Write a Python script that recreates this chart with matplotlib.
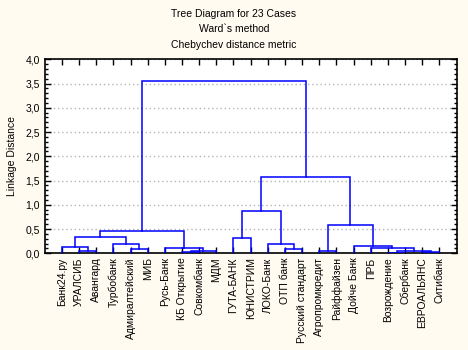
import matplotlib
matplotlib.use('Agg')
import matplotlib.pyplot as plt
import numpy as np
from matplotlib.ticker import MultipleLocator, FuncFormatter

plt.rcParams['font.family'] = ['Liberation Sans', 'DejaVu Sans']

labels = ['Банк24.ру', 'УРАЛСИБ', 'Авангард', 'Турбобанк', 'Адмиралтейский',
          'МИБ', 'Русь-Банк', 'КБ Открытие', 'Совкомбанк', 'МДМ',
          'ГУТА-БАНК', 'ЮНИСТРИМ', 'ЛОКО-Банк', 'ОТП банк', 'Русский стандарт',
          'Агропромкредит', 'Райффайзен', 'Дойче Банк', 'ПРБ', 'Возрождение',
          'Сбербанк', 'ЕВРОАЛЬЯНС', 'Ситибанк']

# merges: node ids < 23 are leaves, new clusters get ids 23, 24, ...
merge_left = [19, 21, 7, 1, 15, 23, 25, 4, 13, 18, 6, 0, 17, 3, 12, 10, 34, 39, 27, 38, 42, 40]
merge_right = [20, 22, 8, 2, 16, 24, 9, 5, 14, 28, 29, 26, 32, 30, 31, 11, 36, 33, 35, 37, 41, 43]
merge_height = [0.015, 0.035, 0.035, 0.04, 0.05, 0.055, 0.055, 0.08, 0.09, 0.10, 0.10,
                0.13, 0.145, 0.20, 0.20, 0.325, 0.34, 0.455, 0.58, 0.87, 1.58, 3.55]

n = len(labels)
pos_x = {i: i + 1 for i in range(n)}
pos_y = {i: 0.0 for i in range(n)}

fig = plt.figure(figsize=(4.68, 3.5), dpi=100, facecolor='#fffbf0')
ax = fig.add_axes([0.0955, 0.2763, 0.8802, 0.5543])
ax.set_facecolor('white')

for k, (a, b, h) in enumerate(zip(merge_left, merge_right, merge_height)):
    xa, xb = pos_x[a], pos_x[b]
    ax.plot([xa, xa, xb, xb], [pos_y[a], h, h, pos_y[b]], color='#0000ff', lw=1.1,
            solid_joinstyle='miter', zorder=3)
    pos_x[n + k] = (xa + xb) / 2
    pos_y[n + k] = h

ax.set_xlim(0, n + 1)
ax.set_ylim(0, 4.0)
ax.set_xticks(range(1, n + 1))
ax.set_xticklabels(labels, rotation=90, fontsize=7.5)
ax.yaxis.set_major_locator(MultipleLocator(0.5))
ax.yaxis.set_minor_locator(MultipleLocator(0.1))
ax.yaxis.set_major_formatter(FuncFormatter(lambda v, p: f'{v:.1f}'.replace('.', ',')))
ax.tick_params(axis='y', labelsize=7.5)
ax.tick_params(which='both', direction='in', top=True, right=True, width=1)
ax.tick_params(which='major', length=4)
ax.tick_params(which='minor', length=2)
ax.tick_params(axis='x', pad=3)
ax.grid(axis='y', which='major', color='#b4b4b4', linestyle=(0, (1, 2)), lw=1)
for s in ax.spines.values():
    s.set_linewidth(1.2)

ax.set_ylabel('Linkage Distance', fontsize=7.5, labelpad=6)

fig.text(0.5, 1 - 14 / 350, 'Tree Diagram for 23 Cases', ha='center', va='center', fontsize=7.5)
fig.text(0.5, 1 - 29.5 / 350, "Ward`s method", ha='center', va='center', fontsize=7.5)
fig.text(0.5, 1 - 45 / 350, 'Chebychev distance metric', ha='center', va='center', fontsize=7.5)

fig.savefig('out.png', dpi=100, facecolor=fig.get_facecolor())
